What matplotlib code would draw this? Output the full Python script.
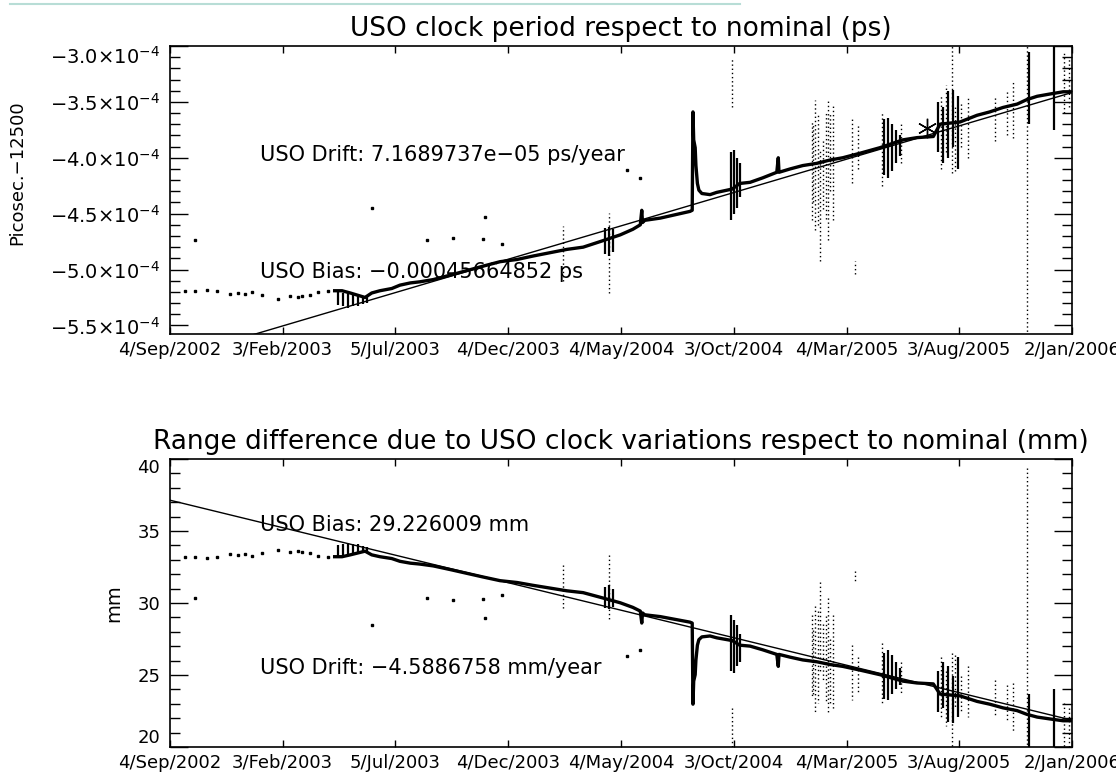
import numpy as np
import matplotlib
matplotlib.use("Agg")
import matplotlib.pyplot as plt
from matplotlib.lines import Line2D

# x values: days since 4/Sep/2002 ; y values: clock period offset in units of 1e-4 ps
tick_days = [0, 152, 304, 456, 608, 760, 912, 1064, 1216]
tick_labels = ["4/Sep/2002", "3/Feb/2003", "5/Jul/2003", "4/Dec/2003", "4/May/2004",
               "3/Oct/2004", "4/Mar/2005", "3/Aug/2005", "2/Jan/2006"]

ps_ticks = [-5.5, -5.0, -4.5, -4.0, -3.5, -3.0]
ps_tick_labels = [r"$-5.5{\times}10^{-4}$", r"$-5.0{\times}10^{-4}$", r"$-4.5{\times}10^{-4}$",
                  r"$-4.0{\times}10^{-4}$", r"$-3.5{\times}10^{-4}$", r"$-3.0{\times}10^{-4}$"]
mm_ticks = [20, 25, 30, 35, 40]

# fit results printed on the chart
drift_ps, bias_ps = 7.1689737e-05, -0.00045664852
drift_mm, bias_mm = -4.5886758, 29.226009
ref_day = 630  # epoch where the fit equals the bias

# sparse points at the start of the mission
early_days = [20, 34, 50, 63, 81, 92, 101, 110, 124, 146, 162, 173, 178, 189, 200, 213]
early_vals = [-5.19, -5.19, -5.18, -5.19, -5.22, -5.21, -5.22, -5.20, -5.23, -5.26,
              -5.24, -5.25, -5.24, -5.23, -5.20, -5.19]

# main continuous track
track_days = [222, 232, 243, 253, 263, 272, 283, 299, 310, 324, 337, 355, 378, 400, 422,
              445, 468, 489, 512, 535, 557, 580, 607, 624, 634, 636, 637, 640, 661, 681,
              701, 704, 705, 706, 708, 709, 711, 713, 717, 728, 737, 751, 758, 768, 782,
              799, 818, 820, 821, 836, 853, 872, 890, 907, 930, 957, 988, 1007, 1029,
              1038, 1065, 1088, 1105, 1123, 1142, 1155, 1169, 1186, 1204, 1216]
track_vals = [-5.19, -5.19, -5.21, -5.23, -5.25, -5.21, -5.19, -5.17, -5.14, -5.12,
              -5.11, -5.09, -5.05, -5.01, -4.97, -4.93, -4.91, -4.88, -4.85, -4.82,
              -4.80, -4.75, -4.69, -4.64, -4.60, -4.47, -4.58, -4.56, -4.54, -4.51,
              -4.48, -4.47, -3.59, -3.84, -3.91, -4.07, -4.23, -4.29, -4.32, -4.33,
              -4.31, -4.29, -4.28, -4.23, -4.22, -4.18, -4.13, -4.00, -4.13, -4.10,
              -4.07, -4.05, -4.02, -4.00, -3.96, -3.91, -3.84, -3.82, -3.81, -3.70,
              -3.68, -3.62, -3.59, -3.55, -3.52, -3.48, -3.45, -3.43, -3.41, -3.41]

# isolated outliers
dot_days = [34, 272, 347, 382, 422, 425, 448, 616, 634]
dot_vals = [-4.74, -4.45, -4.74, -4.72, -4.73, -4.53, -4.77, -4.11, -4.18]

# dense bursts: day, low, high
dense_days = [227, 233, 240, 247, 253, 260, 266, 586, 592, 597, 756, 760, 764, 768,
              962, 968, 973, 979, 984, 1035, 1042, 1049, 1056, 1062, 1158, 1192]
dense_lo = [-5.32, -5.33, -5.34, -5.33, -5.33, -5.31, -5.30, -4.86, -4.88, -4.84,
            -4.56, -4.50, -4.45, -4.35, -4.15, -4.18, -4.12, -4.05, -3.98,
            -3.95, -4.05, -4.00, -3.90, -4.10, -3.70, -3.75]
dense_hi = [-5.20, -5.21, -5.21, -5.22, -5.23, -5.24, -5.23, -4.63, -4.62, -4.64,
            -3.95, -3.93, -4.00, -4.05, -3.65, -3.64, -3.70, -3.75, -3.80,
            -3.50, -3.55, -3.40, -3.39, -3.45, -3.05, -2.95]

# scattered (dotted) bursts
dotted_days = [530, 592, 758, 865, 867, 870, 873, 876, 880, 884, 887, 890, 894, 920, 923,
               928, 960, 986, 1040, 1046, 1054, 1058, 1066, 1076, 1112, 1128, 1136, 1155,
               1205, 1212]
dotted_lo = [-5.10, -5.21, -3.55, -4.56, -4.40, -4.65, -4.60, -4.92, -4.46, -4.55, -4.74,
             -4.30, -4.56, -4.23, -5.04, -4.10, -4.25, -4.05, -4.10, -3.95, -4.14, -4.12,
             -3.90, -4.00, -3.85, -3.80, -3.82, -6.15, -3.60, -3.55]
dotted_hi = [-4.61, -4.49, -3.12, -3.66, -3.70, -3.48, -3.60, -3.93, -3.84, -3.60, -3.48,
             -3.60, -3.53, -3.64, -4.92, -3.70, -3.60, -3.70, -3.45, -3.35, -2.95, -3.55,
             -3.50, -3.45, -3.45, -3.40, -3.30, -2.95, -3.06, -3.10]

star_day, star_val = 1020, -3.73

E4 = 1e-4
to_mm = bias_mm / bias_ps  # period offset (ps) -> range offset (mm)

fig = plt.figure(figsize=(11.16, 7.78), dpi=100)
ax1 = fig.add_axes([0.1523, 0.5707, 0.8083, 0.3702])
ax2 = fig.add_axes([0.1523, 0.0398, 0.8083, 0.3702])

fit_days = np.array([0, 1216])


def draw(ax, scale, bias, drift):
    ax.plot(np.array(early_days), np.array(early_vals) * E4 * scale, 's', ms=1.8, color='black')
    ax.plot(np.array(track_days), np.array(track_vals) * E4 * scale, '-', lw=2.4, color='black')
    ax.plot(np.array(dot_days), np.array(dot_vals) * E4 * scale, 's', ms=1.5, color='black')
    ax.vlines(dense_days, np.array(dense_lo) * E4 * scale, np.array(dense_hi) * E4 * scale,
              color='black', lw=1.6)
    ax.vlines(dotted_days, np.array(dotted_lo) * E4 * scale, np.array(dotted_hi) * E4 * scale,
              color='black', lw=1.0, linestyles=(0, (1, 2)))
    ax.plot(fit_days, bias + drift * (fit_days - ref_day) / 365.25, '-', lw=1.0, color='black')
    ax.set_xlim(0, 1216)
    ax.set_xticks(tick_days)
    ax.set_xticklabels(tick_labels, fontsize=13)
    ax.tick_params(axis='x', which='major', direction='in', top=True, length=5, width=1, pad=5)
    ax.tick_params(axis='y', which='major', direction='in', right=True, length=13, width=1,
                   pad=7)
    ax.tick_params(axis='y', which='minor', direction='in', right=True, length=7, width=1)
    for s in ax.spines.values():
        s.set_linewidth(1.2)


draw(ax1, 1.0, bias_ps, drift_ps)
ax1.plot([star_day], [star_val * E4], marker=(6, 2, 0), ms=14, mew=1, color='black')
ax1.set_ylim(-5.577e-4, -3.0e-4)
ax1.set_yticks(np.array(ps_ticks) * E4)
ax1.set_yticklabels(ps_tick_labels, fontsize=14)
ax1.get_yticklabels()[-1].set_va('top')
ax1.set_yticks(np.arange(-5.5, -2.95, 0.1) * E4, minor=True)
ax1.set_ylabel("Picosec.\u221212500", fontsize=13)
ax1.yaxis.set_label_coords(-0.159, 0.56)
ax1.set_title("USO clock period respect to nominal (ps)", fontsize=19, pad=7)
ax1.text(0.0998, 0.6215, "USO Drift: 7.1689737e\u221205 ps/year", transform=ax1.transAxes,
         fontsize=15, va='center')
ax1.text(0.0998, 0.215, "USO Bias: \u22120.00045664852 ps", transform=ax1.transAxes,
         fontsize=15, va='center')

draw(ax2, to_mm, bias_mm, drift_mm)
ax2.set_ylim(20, 40)
ax2.set_yticks(mm_ticks)
ax2.set_yticklabels([str(v) for v in mm_ticks], fontsize=13)
ax2.get_yticklabels()[0].set_va('bottom')
ax2.get_yticklabels()[-1].set_va('top')
ax2.set_yticks(np.arange(20, 40.5, 1), minor=True)
ax2.set_ylabel("mm", fontsize=14)
ax2.yaxis.set_label_coords(-0.052, 0.5)
ax2.set_title("Range difference due to USO clock variations respect to nominal (mm)",
              fontsize=19, pad=7)
ax2.text(0.0998, 0.771, "USO Bias: 29.226009 mm", transform=ax2.transAxes,
         fontsize=15, va='center')
ax2.text(0.0998, 0.274, "USO Drift: \u22124.5886758 mm/year", transform=ax2.transAxes,
         fontsize=15, va='center')

# faint line at the very top of the screenshot
fig.add_artist(Line2D([10 / 1116, 740 / 1116], [1 - 4 / 778, 1 - 4 / 778],
                      color='#b8ddd6', lw=1.5, transform=fig.transFigure))

fig.savefig("out.png", dpi=100)
